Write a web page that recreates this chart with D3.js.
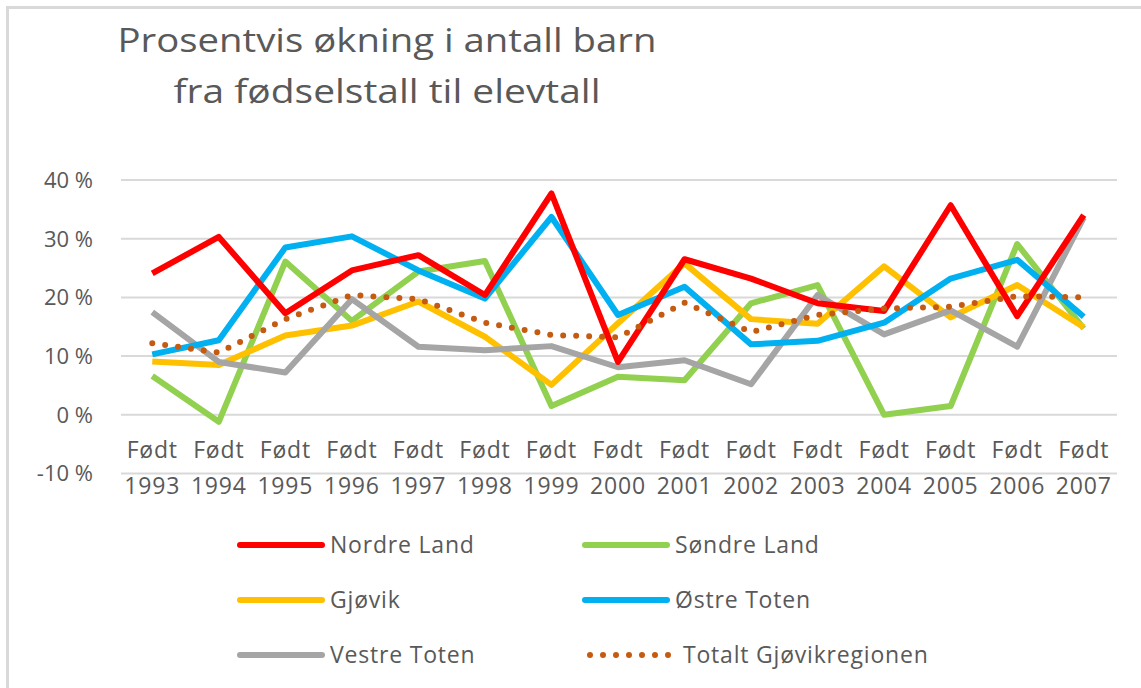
<!DOCTYPE html>
<html>
<head>
<meta charset="utf-8">
<script src="https://cdn.jsdelivr.net/npm/d3@7"></script>
<style>
  body { margin: 0; background: #fff; }
  svg text { font-family: "Open Sans", "Liberation Sans", sans-serif; fill: #595959; }
</style>
</head>
<body>
<div id="chart"></div>
<script>
const years = ['1993', '1994', '1995', '1996', '1997', '1998', '1999', '2000',
  '2001', '2002', '2003', '2004', '2005', '2006', '2007'];
const yTicks = [-10, 0, 10, 20, 30, 40];

const nordreLand = [24.1, 30.3, 17.3, 24.6, 27.2, 20.4, 37.7, 9.0, 26.5, 23.2, 19.0, 17.7, 35.7, 16.8, 34.0];
const sondreLand = [6.6, -1.2, 26.1, 16.0, 24.4, 26.2, 1.5, 6.5, 5.9, 19.0, 22.1, 0.0, 1.5, 29.1, 14.7];
const gjovik = [9.1, 8.5, 13.5, 15.2, 19.3, 13.3, 5.1, 15.6, 25.8, 16.3, 15.5, 25.3, 16.6, 22.1, 14.9];
const ostreToten = [10.3, 12.7, 28.5, 30.4, 24.6, 19.8, 33.7, 17.0, 21.8, 12.0, 12.6, 15.7, 23.2, 26.4, 16.7];
const vestreToten = [17.5, 9.0, 7.2, 19.7, 11.6, 11.0, 11.7, 8.1, 9.3, 5.2, 20.4, 13.7, 17.8, 11.6, 33.6];
const totalt = [12.2, 10.6, 16.3, 20.4, 19.7, 15.7, 13.6, 13.2, 19.1, 14.1, 17.0, 18.1, 18.4, 20.2, 20.0];

const series = [
  { name: 'Nordre Land', values: nordreLand, color: '#FF0000', dotted: false },
  { name: 'Søndre Land', values: sondreLand, color: '#92D050', dotted: false },
  { name: 'Gjøvik', values: gjovik, color: '#FFC000', dotted: false },
  { name: 'Østre Toten', values: ostreToten, color: '#00B0F0', dotted: false },
  { name: 'Vestre Toten', values: vestreToten, color: '#A5A5A5', dotted: false },
  { name: 'Totalt Gjøvikregionen', values: totalt, color: '#C55A11', dotted: true },
];

const width = 1141;
const height = 688;

const svg = d3.select('#chart').append('svg')
  .attr('width', width)
  .attr('height', height);

// outer chart border (cut off on right and bottom like the screenshot)
svg.append('rect')
  .attr('x', 7.5)
  .attr('y', 7.5)
  .attr('width', width + 10)
  .attr('height', height + 10)
  .attr('fill', '#fff')
  .attr('stroke', '#D9D9D9')
  .attr('stroke-width', 3);

// title, stretched to the width of the original
const title = svg.append('text')
  .attr('text-anchor', 'middle')
  .style('font-size', '32px');
title.append('tspan').attr('x', 387).attr('y', 52)
  .attr('textLength', 539).attr('lengthAdjust', 'spacingAndGlyphs')
  .text('Prosentvis økning i antall barn');
title.append('tspan').attr('x', 387).attr('y', 103)
  .attr('textLength', 427).attr('lengthAdjust', 'spacingAndGlyphs')
  .text('fra fødselstall til elevtall');

const x = d3.scaleBand().domain(years).range([119, 1117]);
const y = d3.scaleLinear().domain([-10, 40]).range([473.5, 180]);

// gridlines
svg.append('g')
  .selectAll('line')
  .data(yTicks)
  .join('line')
  .attr('x1', 121)
  .attr('x2', 1117)
  .attr('y1', (d) => y(d))
  .attr('y2', (d) => y(d))
  .attr('stroke', '#D9D9D9')
  .attr('stroke-width', 2);

// y axis labels
svg.append('g')
  .selectAll('text')
  .data(yTicks)
  .join('text')
  .attr('x', 93)
  .attr('y', (d) => y(d))
  .attr('dy', '0.36em')
  .attr('text-anchor', 'end')
  .style('font-size', '22px')
  .text((d) => `${d} %`);

// x axis labels (two lines)
const xl = svg.append('g')
  .selectAll('text')
  .data(years)
  .join('text')
  .attr('text-anchor', 'middle')
  .style('font-size', '23px')
  .style('letter-spacing', '0.8px');
xl.append('tspan')
  .attr('x', (d) => x(d) + x.bandwidth() / 2)
  .attr('y', 458)
  .text('Født');
xl.append('tspan')
  .attr('x', (d) => x(d) + x.bandwidth() / 2)
  .attr('y', 494)
  .text((d) => d);

// lines
const line = d3.line()
  .x((d, i) => x(years[i]) + x.bandwidth() / 2)
  .y((d) => y(d));

const drawOrder = [1, 2, 4, 3, 0, 5];
svg.append('g')
  .selectAll('path')
  .data(drawOrder.map((i) => series[i]))
  .join('path')
  .attr('d', (d) => line(d.values))
  .attr('fill', 'none')
  .attr('stroke', (d) => d.color)
  .attr('stroke-width', 6)
  .attr('stroke-linejoin', 'round')
  .attr('stroke-linecap', (d) => (d.dotted ? 'round' : 'butt'))
  .attr('stroke-dasharray', (d) => (d.dotted ? '0,13' : null));

// legend
const legendX = [238, 583];
const legendY = [545, 600, 655];
const leg = svg.append('g')
  .selectAll('g')
  .data(series)
  .join('g')
  .attr('transform', (d, i) => `translate(${legendX[i % 2]},${legendY[Math.floor(i / 2)]})`);

leg.append('line')
  .attr('x1', (d) => (d.dotted ? 7 : 2))
  .attr('x2', (d) => (d.dotted ? 86 : 84))
  .attr('stroke', (d) => d.color)
  .attr('stroke-width', 6)
  .attr('stroke-linecap', 'round')
  .attr('stroke-dasharray', (d) => (d.dotted ? '0,13' : null));

leg.append('text')
  .attr('x', (d) => (d.dotted ? 100 : 92))
  .attr('dy', '0.36em')
  .style('font-size', '23px')
  .style('letter-spacing', '0.8px')
  .text((d) => d.name);
</script>
</body>
</html>
